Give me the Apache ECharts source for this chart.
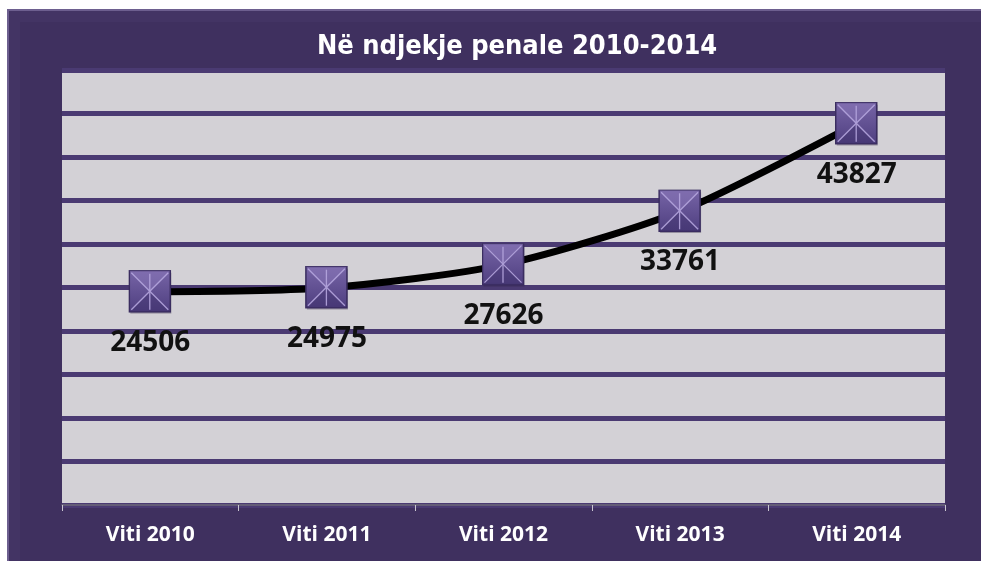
<!DOCTYPE html>
<html>
<head>
<meta charset="utf-8">
<style>
  html, body { margin: 0; padding: 0; background: #ffffff; }
  #chart { width: 981px; height: 561px; }
</style>
<script src="https://cdn.jsdelivr.net/npm/echarts@6/dist/echarts.min.js"></script>
</head>
<body>
<div id="chart"></div>
<script>
// data
const years = ['Viti 2010', 'Viti 2011', 'Viti 2012', 'Viti 2013', 'Viti 2014']
const cases = [24506, 24975, 27626, 33761, 43827]
const chartTitle = 'Në ndjekje penale 2010-2014'

// purple bevelled square marker with a light star, as svg
const markerSvg =
  '<svg xmlns="http://www.w3.org/2000/svg" width="44" height="44" viewBox="0 0 44 44">' +
  '<defs><linearGradient id="g" x1="0" y1="0" x2="0" y2="1">' +
  '<stop offset="0" stop-color="#7664a6"/><stop offset="1" stop-color="#4f3f80"/></linearGradient></defs>' +
  '<rect x="2" y="3" width="41" height="41" fill="#2a2040" opacity="0.35"/>' +
  '<rect x="1" y="1" width="41" height="41" fill="url(#g)" stroke="#3a2d60" stroke-width="1.5"/>' +
  '<polygon points="1,1 42,1 21.5,21.5" fill="#8674b6" opacity="0.55"/>' +
  '<polygon points="1,42 42,42 21.5,21.5" fill="#3f316b" opacity="0.45"/>' +
  '<g stroke="#b5a6de" stroke-width="1.3" opacity="0.9">' +
  '<line x1="3" y1="3" x2="40" y2="40"/><line x1="40" y1="3" x2="3" y2="40"/>' +
  '<line x1="21.5" y1="4" x2="21.5" y2="40"/></g></svg>'
const markerImg = 'image://data:image/svg+xml;charset=utf-8,' + encodeURIComponent(markerSvg)

const chart = echarts.init(document.getElementById('chart'))

const option = {
  backgroundColor: '#ffffff',
  animation: false,
  graphic: [
    {
      type: 'rect',
      z: -10,
      shape: { x: 8, y: 10, width: 980, height: 560 },
      style: { fill: '#433464', stroke: '#6d5f8f', lineWidth: 2 },
    },
    {
      type: 'rect',
      z: -9,
      shape: { x: 20, y: 22, width: 961, height: 539 },
      style: { fill: '#3f305f' },
    },
  ],
  title: {
    text: chartTitle,
    left: 312,
    top: 28,
    textStyle: {
      color: '#ffffff',
      fontFamily: 'Liberation Sans Narrow, DejaVu Sans Condensed, sans-serif',
      fontWeight: 'bold',
      fontSize: 27,
    },
  },
  grid: {
    left: 62,
    right: 36,
    top: 70,
    bottom: 56,
    show: true,
    backgroundColor: '#d3d1d6',
    borderWidth: 0,
  },
  xAxis: {
    type: 'category',
    data: years,
    boundaryGap: true,
    axisLine: { lineStyle: { color: '#6c6878', width: 1.5 } },
    axisTick: { show: true, length: 6, lineStyle: { color: '#c9c6d0' } },
    axisLabel: {
      color: '#ffffff',
      fontFamily: 'Open Sans, sans-serif',
      fontWeight: 'bold',
      fontSize: 21,
      margin: 20,
    },
  },
  yAxis: {
    type: 'value',
    min: 0,
    max: 50000,
    interval: 5000,
    axisLabel: { show: false },
    axisLine: { show: false },
    axisTick: { show: false },
    splitLine: { lineStyle: { color: '#4a3a72', width: 5 } },
  },
  series: [
    {
      type: 'line',
      data: cases,
      smooth: 0.25,
      symbol: markerImg,
      symbolSize: 44,
      lineStyle: { color: '#000000', width: 7 },
      itemStyle: { color: '#5a4a8c' },
      label: {
        show: true,
        position: 'bottom',
        distance: 15,
        color: '#111111',
        fontFamily: 'Open Sans, sans-serif',
        fontWeight: 'bold',
        fontSize: 28,
      },
      z: 3,
    },
  ],
}

chart.setOption(option)
</script>
</body>
</html>
